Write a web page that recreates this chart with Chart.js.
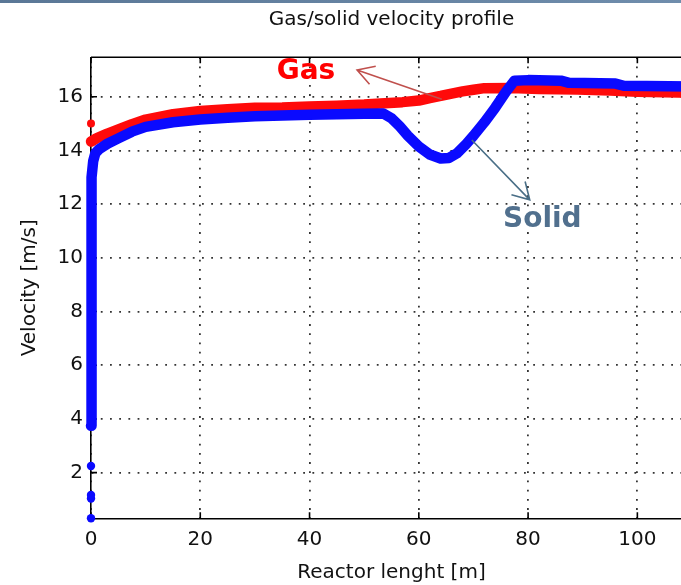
<!DOCTYPE html>
<html>
<head>
<meta charset="utf-8">
<title>Gas/solid velocity profile</title>
<script src="https://cdn.jsdelivr.net/npm/chart.js@4.4.1/dist/chart.umd.min.js"></script>
<style>
  html, body { margin: 0; padding: 0; background: #fff; overflow: hidden; width: 681px; height: 585px; }
  #band { position: absolute; left: 0; top: 0; width: 681px; height: 3px; z-index: 2;
          background: linear-gradient(90deg, #5a7796, #6f8dac); }
  #wrap { position: absolute; left: 0; top: 0; width: 700px; height: 585px; }
</style>
</head>
<body>
<div id="band"></div>
<div id="wrap"><canvas id="c" width="700" height="585"></canvas></div>
<script>
// Gas velocity along the reactor [m, m/s]
const gasLength   = [0, 1, 3, 5, 7.5, 10, 15, 20, 25, 30, 35, 40, 45, 50, 53, 57, 60, 62, 64, 66, 68, 70, 72, 77, 82, 89, 95, 100, 110];
const gasVelocity = [14.33, 14.45, 14.63, 14.78, 14.98, 15.15, 15.35, 15.47, 15.54, 15.59, 15.6, 15.64, 15.67, 15.71, 15.75, 15.8, 15.86, 15.95, 16.03, 16.12, 16.2, 16.26, 16.32, 16.33, 16.29, 16.27, 16.23, 16.19, 16.15];

// Solid velocity along the reactor [m, m/s]
const solidLength   = [0, 0.05, 0.15, 0.4, 0.8, 1.5, 3, 5, 7.5, 10, 15, 20, 25, 30, 35, 40, 45, 50, 53.5, 55, 56.5, 58, 60, 62, 64, 65.5, 67, 68.5, 70, 72, 74, 76, 77.5, 80, 86, 87.5, 96, 97.5, 110];
const solidVelocity = [3.75, 11.5, 13.0, 13.6, 13.9, 14.05, 14.25, 14.45, 14.7, 14.88, 15.05, 15.15, 15.22, 15.27, 15.3, 15.33, 15.35, 15.37, 15.38, 15.2, 14.9, 14.55, 14.15, 13.85, 13.7, 13.72, 13.9, 14.2, 14.55, 15.05, 15.6, 16.2, 16.6, 16.62, 16.6, 16.52, 16.49, 16.41, 16.38];

// Isolated inlet samples at x = 0
const gasInletLength     = [0];
const gasInletVelocity   = [15.0];
const solidInletLength   = [0, 0, 0, 0];
const solidInletVelocity = [0.3, 1.04, 1.17, 2.25];

// Axis ticks
const xTickValues = [0, 20, 40, 60, 80, 100];
const yTickValues = [2, 4, 6, 8, 10, 12, 14, 16];

// Callout labels and arrows (data units)
const calloutLabels = [
  { text: 'Gas',   x: 39.35, y: 16.93, color: '#ff0000' },
  { text: 'Solid', x: 82.6,  y: 11.43, color: '#51708e' }
];
const calloutArrows = [
  { from: [64.2, 15.91], to: [48.7, 17.0],  color: '#c0504d' },
  { from: [69.7, 14.39], to: [80.3, 12.16], color: '#4a6f87' }
];

const toPoints = (xs, ys) => xs.map((x, i) => ({ x: x, y: ys[i] }));

const FONT = "'DejaVu Sans', sans-serif";

// Frame on top edge plus inward tick marks (MATLAB style)
const framePlugin = {
  id: 'frame',
  beforeDatasetsDraw(chart) {
    const { ctx, chartArea: a, scales: { x, y } } = chart;
    ctx.save();
    ctx.strokeStyle = '#000';
    ctx.lineWidth = 1.6;
    ctx.beginPath();
    ctx.moveTo(a.left, a.top);
    ctx.lineTo(a.right, a.top);
    ctx.lineTo(a.right, a.bottom);
    ctx.stroke();
    ctx.beginPath();
    xTickValues.forEach(v => {
      const px = x.getPixelForValue(v);
      ctx.moveTo(px, a.bottom); ctx.lineTo(px, a.bottom - 6);
      ctx.moveTo(px, a.top);    ctx.lineTo(px, a.top + 6);
    });
    yTickValues.forEach(v => {
      const py = y.getPixelForValue(v);
      ctx.moveTo(a.left, py);  ctx.lineTo(a.left + 6, py);
      ctx.moveTo(a.right, py); ctx.lineTo(a.right - 6, py);
    });
    ctx.stroke();
    ctx.restore();
  }
};

// Text callouts with open arrow heads
const calloutPlugin = {
  id: 'callouts',
  afterDraw(chart) {
    const { ctx, scales: { x, y } } = chart;
    ctx.save();
    calloutArrows.forEach(a => {
      const x1 = x.getPixelForValue(a.from[0]), y1 = y.getPixelForValue(a.from[1]);
      const x2 = x.getPixelForValue(a.to[0]),   y2 = y.getPixelForValue(a.to[1]);
      const ang = Math.atan2(y1 - y2, x1 - x2);
      const len = 19, spread = Math.PI / 6;
      ctx.strokeStyle = a.color;
      ctx.lineWidth = 1.6;
      ctx.beginPath();
      ctx.moveTo(x1, y1); ctx.lineTo(x2, y2);
      ctx.moveTo(x2 + len * Math.cos(ang - spread), y2 + len * Math.sin(ang - spread));
      ctx.lineTo(x2, y2);
      ctx.lineTo(x2 + len * Math.cos(ang + spread), y2 + len * Math.sin(ang + spread));
      ctx.stroke();
    });
    ctx.font = "bold 28px " + FONT;
    ctx.textAlign = 'center';
    ctx.textBaseline = 'middle';
    calloutLabels.forEach(l => {
      ctx.fillStyle = l.color;
      ctx.fillText(l.text, x.getPixelForValue(l.x), y.getPixelForValue(l.y));
    });
    ctx.restore();
  }
};

const gridStyle = {
  display: true, drawTicks: false, color: '#333', lineWidth: 1.8
};
const borderStyle = { display: true, color: '#000', width: 1.6, dash: [1.8, 7.4] };

new Chart(document.getElementById('c'), {
  type: 'line',
  data: {
    datasets: [
      {
        label: 'Solid', data: toPoints(solidLength, solidVelocity),
        borderColor: '#0a0aff', borderWidth: 10.5, pointRadius: 0,
        borderCapStyle: 'round', borderJoinStyle: 'round', tension: 0, order: 0, clip: 10
      },
      {
        label: 'Gas', data: toPoints(gasLength, gasVelocity),
        borderColor: '#ff0a0a', borderWidth: 10.5, pointRadius: 0,
        borderCapStyle: 'round', borderJoinStyle: 'round', tension: 0, order: 1, clip: 10
      },
      {
        label: 'Solid inlet', data: toPoints(solidInletLength, solidInletVelocity),
        showLine: false, pointRadius: 4.2, pointBackgroundColor: '#0a0aff', pointBorderWidth: 0,
        order: 0, clip: false
      },
      {
        label: 'Gas inlet', data: toPoints(gasInletLength, gasInletVelocity),
        showLine: false, pointRadius: 4, pointBackgroundColor: '#ff0a0a', pointBorderWidth: 0,
        order: 1, clip: false
      }
    ]
  },
  options: {
    responsive: false,
    animation: false,
    devicePixelRatio: 1,
    layout: { padding: { left: 0, right: 8, top: 0, bottom: 0 } },
    plugins: {
      legend: { display: false },
      tooltip: { enabled: false },
      title: {
        display: true, fullSize: false,
        text: 'Gas/solid velocity profile',
        color: '#111',
        font: { family: FONT, size: 20, weight: 'normal', lineHeight: 1.2 },
        padding: { top: 8, bottom: 25.3 }
      }
    },
    scales: {
      x: {
        type: 'linear', min: 0, max: 110,
        afterBuildTicks: s => { s.ticks = xTickValues.map(v => ({ value: v })); },
        afterFit: s => { s.height = 66.7; },
        grid: gridStyle, border: borderStyle,
        ticks: { color: '#111', padding: 9, maxRotation: 0, font: { family: FONT, size: 20, lineHeight: 1.2 } },
        title: { display: true, text: 'Reactor lenght [m]', color: '#111',
                 font: { family: FONT, size: 20, lineHeight: 1.2 }, padding: { top: 0, bottom: 0 } }
      },
      y: {
        type: 'linear', min: 0.3, max: 17.47,
        afterBuildTicks: s => { s.ticks = yTickValues.map(v => ({ value: v })); },
        afterFit: s => { s.width = 91; },
        grid: gridStyle, border: borderStyle,
        ticks: { color: '#111', padding: 8, font: { family: FONT, size: 20, lineHeight: 1.2 } },
        title: { display: true, text: 'Velocity [m/s]', color: '#111',
                 font: { family: FONT, size: 20, lineHeight: 1.2 }, padding: { top: 18, bottom: 0 } }
      }
    }
  },
  plugins: [framePlugin, calloutPlugin]
});
</script>
</body>
</html>
